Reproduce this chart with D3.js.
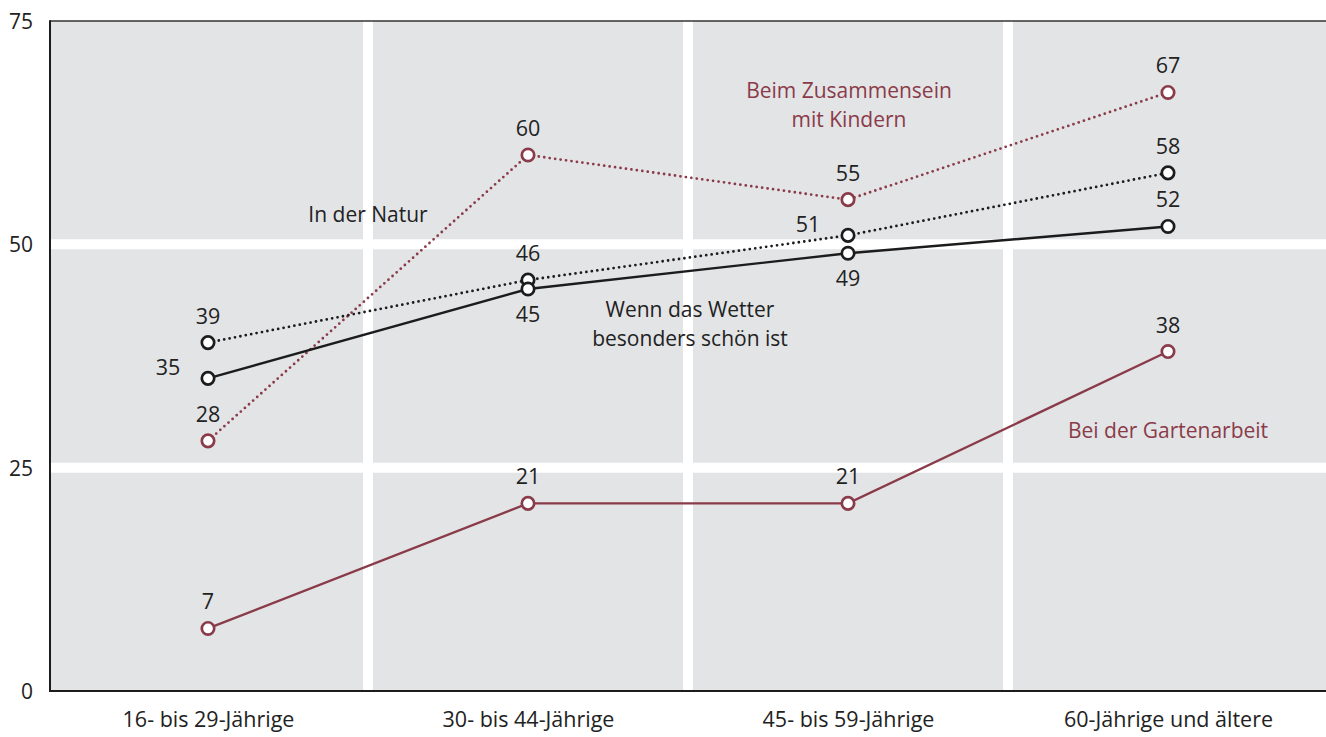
<!DOCTYPE html>
<html lang="de">
<head>
<meta charset="utf-8">
<script src="https://cdn.jsdelivr.net/npm/d3@7"></script>
<style>
  html, body { margin: 0; padding: 0; background: #ffffff; }
  svg { display: block; font-family: "Open Sans", "Noto Sans", sans-serif; }
</style>
</head>
<body>
<svg id="chart" width="1326" height="737"></svg>
<script>
// Age groups on the x axis
const categories = ["16- bis 29-Jährige", "30- bis 44-Jährige", "45- bis 59-Jährige", "60-Jährige und ältere"];
const yTicks = [0, 25, 50, 75];

// Share of respondents (%) per situation and age group
const gartenarbeit = [7, 21, 21, 38];
const kinder = [28, 60, 55, 67];
const natur = [39, 46, 51, 58];
const wetter = [35, 45, 49, 52];

// Where each value label sits relative to its point
const gartenarbeitLabelPos = ["above", "above", "above", "above"];
const kinderLabelPos = ["above", "above", "above", "above"];
const naturLabelPos = ["above", "above", "left", "above"];
const wetterLabelPos = ["left", "below", "below", "above"];

const MAROON = "#8a3b49";
const INK = "#1c1c1c";
const TEXT = "#222222";

const series = [
  { name: "gartenarbeit", values: gartenarbeit, labelPos: gartenarbeitLabelPos, color: MAROON, dotted: false },
  { name: "kinder", values: kinder, labelPos: kinderLabelPos, color: MAROON, dotted: true },
  { name: "natur", values: natur, labelPos: naturLabelPos, color: INK, dotted: true },
  { name: "wetter", values: wetter, labelPos: wetterLabelPos, color: INK, dotted: false }
];

// Series names written inside the plot
const seriesLabels = [
  { lines: ["Beim Zusammensein", "mit Kindern"], x: 849, y: 98, color: MAROON },
  { lines: ["In der Natur"], x: 368, y: 222, color: TEXT },
  { lines: ["Wenn das Wetter", "besonders schön ist"], x: 690, y: 317, color: TEXT },
  { lines: ["Bei der Gartenarbeit"], x: 1168, y: 438, color: MAROON }
];

const svg = d3.select("#chart");
const plot = { left: 50, right: 1328, top: 21, bottom: 691 };

const x = d3.scalePoint().domain(categories).range([48, 1328]).padding(0.5);
const band = d3.scaleBand().domain(categories).range([48, 1328]);
const y = d3.scaleLinear().domain([0, 75]).range([plot.bottom, plot.top]);

// Plot background
svg.append("rect")
  .attr("x", plot.left).attr("y", plot.top)
  .attr("width", plot.right - plot.left).attr("height", plot.bottom - plot.top)
  .attr("fill", "#e3e4e6");

// White grid: horizontal at the inner ticks, vertical between age groups
svg.append("g").selectAll("line")
  .data(yTicks.filter(t => t > 0 && t < 75))
  .join("line")
  .attr("x1", plot.left).attr("x2", plot.right)
  .attr("y1", d => y(d)).attr("y2", d => y(d))
  .attr("stroke", "#ffffff").attr("stroke-width", 10);

svg.append("g").selectAll("line")
  .data(categories.slice(0, -1))
  .join("line")
  .attr("x1", d => band(d) + band.bandwidth()).attr("x2", d => band(d) + band.bandwidth())
  .attr("y1", plot.top).attr("y2", plot.bottom)
  .attr("stroke", "#ffffff").attr("stroke-width", 10);

// Frame
svg.append("line")
  .attr("x1", plot.left).attr("x2", plot.right).attr("y1", plot.top).attr("y2", plot.top)
  .attr("stroke", "#333").attr("stroke-width", 1.5);
svg.append("line")
  .attr("x1", plot.left).attr("x2", plot.left).attr("y1", plot.top - 0.75).attr("y2", plot.bottom + 1)
  .attr("stroke", INK).attr("stroke-width", 2);

// Y axis labels
const yAxis = d3.axisLeft(y).tickValues(yTicks).tickSize(0).tickPadding(17);
const gy = svg.append("g").attr("transform", `translate(${plot.left},0)`).call(yAxis);
gy.select(".domain").remove();
gy.selectAll("text")
  .attr("font-size", 21).attr("fill", TEXT)
  .attr("font-family", "'Open Sans', 'Noto Sans', sans-serif")
  .attr("dy", "0.36em");

// X axis
const xAxis = d3.axisBottom(x).tickSize(0).tickPadding(18);
const gx = svg.append("g").attr("transform", `translate(0,${plot.bottom})`).call(xAxis);
gx.select(".domain").attr("d", `M${plot.left - 1},0H${plot.right}`)
  .attr("stroke", INK).attr("stroke-width", 2);
gx.selectAll("text")
  .attr("font-size", 21.5).attr("fill", TEXT)
  .attr("font-family", "'Open Sans', 'Noto Sans', sans-serif")
  .attr("dy", "0.85em");

// Lines
const line = d3.line().x((d, i) => x(categories[i])).y(d => y(d));
svg.append("g").selectAll("path")
  .data(series)
  .join("path")
  .attr("d", s => line(s.values))
  .attr("fill", "none")
  .attr("stroke", s => s.color)
  .attr("stroke-width", s => s.dotted ? 2.8 : 2.4)
  .attr("stroke-linecap", "round")
  .attr("stroke-dasharray", s => s.dotted ? "0 5.5" : null);

// Point markers
svg.append("g").selectAll("g")
  .data(series)
  .join("g")
  .each(function (s) {
    d3.select(this).selectAll("circle")
      .data(s.values)
      .join("circle")
      .attr("cx", (d, i) => x(categories[i]))
      .attr("cy", d => y(d))
      .attr("r", 6.2)
      .attr("fill", "#ffffff")
      .attr("stroke", s.color)
      .attr("stroke-width", 2.7);
  });

// Value labels
svg.append("g").selectAll("g")
  .data(series)
  .join("g")
  .each(function (s) {
    d3.select(this).selectAll("text")
      .data(s.values)
      .join("text")
      .attr("x", (d, i) => x(categories[i]) + (s.labelPos[i] === "left" ? -40 : 0))
      .attr("y", (d, i) => {
        const p = s.labelPos[i];
        if (p === "below") return y(d) + 33;
        if (p === "left") return y(d) - 3;
        return y(d) - 19;
      })
      .attr("text-anchor", "middle")
      .attr("font-size", 21.5)
      .attr("fill", TEXT)
      .text(d => d);
  });

// Series names
const names = svg.append("g").selectAll("text")
  .data(seriesLabels)
  .join("text")
  .attr("text-anchor", "middle")
  .attr("font-size", 21)
  .attr("fill", d => d.color);
names.selectAll("tspan")
  .data(d => d.lines.map((t, i) => ({ t, i, x: d.x, y: d.y })))
  .join("tspan")
  .attr("x", d => d.x)
  .attr("y", d => d.y + d.i * 29)
  .text(d => d.t);
</script>
</body>
</html>
